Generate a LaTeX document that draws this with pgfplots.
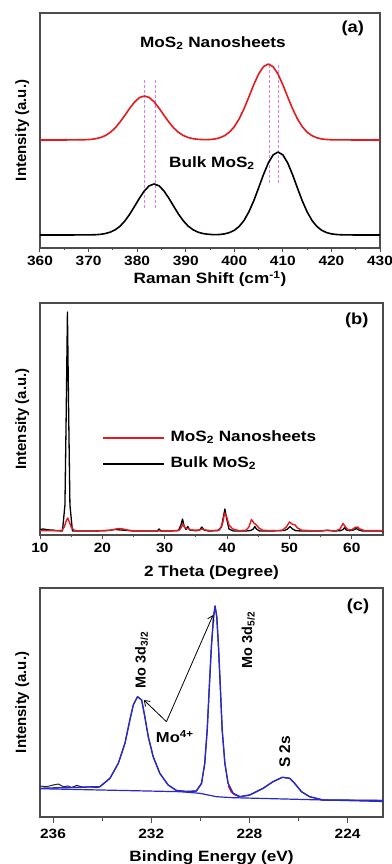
\documentclass[border=0pt]{standalone}
\usepackage{fontspec}
\setmainfont[FakeStretch=1.15]{Liberation Sans}
\newfontfamily\rotfont{Liberation Sans}
\usepackage{pgfplots}
\pgfplotsset{compat=1.18}
\usetikzlibrary{arrows.meta}
\definecolor{myred}{RGB}{230,25,30}
\definecolor{myblue}{RGB}{40,40,205}
\definecolor{myviolet}{RGB}{225,120,235}
\newcommand{\fs}[1]{\fontsize{#1}{#1}\selectfont\bfseries}
\pgfplotsset{
  base/.style={
    scale only axis, anchor=south west,
    axis line style={black!70, line width=1.1bp},
    tick style={black!70, line width=1bp},
    tick align=outside, major tick length=4.5bp, minor tick length=2.5bp,
    xtick pos=bottom, ytick=\empty, enlargelimits=false,
    /pgf/number format/assume math mode=true,
    xticklabel style={font=\fs{13.5}},
    xlabel style={at={(axis description cs:0.5,0)}, anchor=center, font=\fs{15}},
    every axis y label/.style={at={(axis description cs:-0.052,0.5)}, rotate=90, anchor=center, font=\rotfont\fs{15}},
    ylabel={Intensity (a.u.)},
  }
}
\begin{document}
\begin{tikzpicture}
\useasboundingbox (0,0) rectangle (392bp,864bp);
% ---------------- (a) Raman
\begin{axis}[base, at={(40bp,616bp)}, width=340bp, height=235bp,
  xmin=360, xmax=430, ymin=0, ymax=235,
  xtick={360,370,...,430}, minor x tick num=1,
  xlabel={Raman Shift (cm\textsuperscript{-1})}, xlabel style={yshift=-31bp}]
\addplot[myviolet, line width=0.9bp, dash pattern=on 3bp off 2bp] coordinates {(381.47,40) (381.47,169)};
\addplot[myviolet, line width=0.9bp, dash pattern=on 3bp off 2bp] coordinates {(383.68,40) (383.68,169)};
\addplot[myviolet, line width=0.9bp, dash pattern=on 3bp off 2bp] coordinates {(407.2,64.7) (407.2,184.7)};
\addplot[myviolet, line width=0.9bp, dash pattern=on 3bp off 2bp] coordinates {(409.1,64.7) (409.1,184.7)};
\addplot[black, line width=1.6bp, line join=round] table {
360 13
365 13
370 13.1
371.5 13.3
372.5 13.7
373.5 14.5
374.5 15.9
375.5 18.25
376.5 21.9
377.5 27.2
378.5 34.0
379.5 41.9
380.5 50.0
381.5 57.2
382.5 62.2
383.5 64
384.5 62.2
385.5 57.2
386.5 50.0
387.5 41.9
388.5 34.0
389.5 27.2
390.5 21.9
391.5 18.25
392.5 15.9
393.5 14.5
394.5 13.8
395.5 13.4
396 13.3
397 13.5
398 14.1
399 15.4
400 17.65
401 21.55
402 27.5
403 36.1
404 47.1
405 60.0
406 73.3
407 85.0
408 93.1
409 96
410 93.1
411 85.0
412 73.3
413 60.0
414 47.1
415 36.1
416 27.5
417 21.55
418 17.65
419 15.4
420 14.1
421 13.5
422 13.2
425 13
430 13
};
\addplot[myred, line width=1.6bp, line join=round] table {
360 108
365 108
369.5 108.3
370.5 108.6
371.5 109.3
372.5 110.5
373.5 112.5
374.5 115.7
375.5 120.2
376.5 126.1
377.5 132.9
378.5 139.9
379.5 146.1
380.5 150.5
381.5 152
382.5 150.5
383.5 146.1
384.5 139.9
385.5 132.9
386.5 126.1
387.5 120.2
388.5 115.7
389.5 112.5
390.5 110.5
391.5 109.3
392.5 108.7
393.5 108.4
394.5 108.4
395 108.5
396 109.0
397 110.2
398 112.3
399 115.8
400 121.3
401 129.1
402 139.2
403 151.0
404 163.2
405 173.9
406 181.3
407 184
408 181.3
409 173.9
410 163.2
411 151.0
412 139.2
413 129.1
414 121.3
415 115.8
416 112.3
417 110.2
418 109.0
419 108.5
420 108.2
425 108
430 108
};
\node[font=\fs{15}] at (axis cs:395.6,205) {MoS\textsubscript{2} Nanosheets};
\node[font=\fs{15}] at (axis cs:395.4,85) {Bulk MoS\textsubscript{2}};
\node[font=\fs{16}] at (axis cs:424.4,220) {(a)};
\end{axis}
% ---------------- (b) XRD
\begin{axis}[base, at={(40bp,329bp)}, width=343bp, height=232bp,
  xmin=10, xmax=65, ymin=0, ymax=232,
  xtick={10,20,...,60}, minor x tick num=1,
  xlabel={2 Theta (Degree)}, xlabel style={yshift=-38bp},
  legend cell align=left,
  legend image code/.code={\draw[#1] (0bp,0bp) -- (61bp,0bp);},
  legend style={draw=none, fill=none, at={(axis description cs:0.181,0.362)}, anchor=west,
    inner sep=0pt, row sep=11bp, font=\fs{15},
    nodes={inner sep=0pt, text height=11bp, text depth=4bp},
    /tikz/every odd column/.append style={column sep=6bp}}]
\addlegendimage{myred, line width=1.3bp}
\addlegendentry{MoS\textsubscript{2} Nanosheets}
\addlegendimage{black, line width=1.3bp}
\addlegendentry{Bulk MoS\textsubscript{2}}
\addplot[black, line width=1.3bp, line join=round, forget plot] table {
10 5.5
10.5 6
11 5.5
11.5 5
12 5
12.5 4.5
13 4.2
13.6 4
14.0 30
14.2 120
14.4 223
14.6 120
14.8 30
15.2 4
16 4
18 4
20 4.2
21 4.5
22 5.5
23 5
24 4.5
25 4
27 4
28.8 4
29.1 6
29.4 4
31 4
32.2 4.5
32.6 10
32.85 16
33.1 9
33.4 5.5
33.7 8.5
34 5
35 4.2
35.6 5
35.95 8
36.3 5
37 4
38.5 4.3
39.1 8
39.4 18
39.65 26
39.9 17
40.3 6
41 4
43 4
43.8 4.5
44.2 6
44.45 8.5
44.7 6
45.2 4
47 4
49.2 4.5
49.7 6
50.1 8.5
50.5 6
51 4.3
52 4
55 4
56.2 4.8
57 4
58.2 4.3
58.6 5.5
58.85 7.5
59.1 5
59.6 4.3
60.3 5
60.7 6.5
61.1 5
61.7 4
63 4
65 4
};
\addplot[myred, line width=1.4bp, line join=round, forget plot] table {
10 4.5
11 4.3
12 4.2
13 4.3
13.5 4.5
13.9 8
14.2 14
14.45 17
14.7 13
15.0 8
15.5 4.5
16.5 4
19 4
20.5 4.5
21.5 5
22.2 6
22.7 6.5
23.3 6
24 5
25 4.2
27 4
30 4
32.3 4.5
32.7 8
32.9 11
33.2 7.5
33.5 6.5
33.8 6.5
34.2 5
35.5 4.8
36 6
36.5 5
37.5 4.3
38.8 5
39.3 12
39.6 22
39.9 19
40.3 10
40.9 6
41.8 4.5
43 4.6
43.5 8
43.9 15.5
44.3 12
44.7 10
45.1 7
45.7 4.8
47 4.3
48.8 4.6
49.5 8
50.0 13
50.4 11
50.9 10
51.3 7
52 4.8
53.5 4.3
55 4.2
56 4.6
56.5 4.2
57.5 4.3
58.1 6
58.6 11.5
59.0 8
59.4 5
60 5.2
60.5 7.5
60.9 8
61.3 6
62 4.5
63 4.3
65 4.3
};
\node[font=\fs{16}] at (axis cs:60.8,215) {(b)};
\end{axis}
% ---------------- (c) XPS
\begin{axis}[base, at={(40bp,47bp)}, width=343bp, height=229bp,
  x dir=reverse, xmin=222.56, xmax=236.53, ymin=0, ymax=229,
  xtick={224,228,232,236}, minor x tick num=1,
  major tick length=6bp, minor tick length=3.5bp,
  xticklabel shift=3bp,
  xlabel={Binding Energy (eV)}, xlabel style={yshift=-41bp}]
\addplot[black!85, line width=1bp, line join=round] table {
236.53 31.0
236.26 30.3
235.99 32.0
235.78 33.0
235.58 30.3
235.38 31.0
235.24 29.3
235.04 31.7
234.77 29.7
234.50 30.3
234.22 29.3
234.09 30.3
233.68 38.7
233.34 53.7
233.07 73.7
232.87 97.0
232.73 112.0
232.56 120.3
232.39 117.0
232.26 100.3
232.12 80.3
231.92 60.3
231.65 43.7
231.31 32.0
230.97 26.5
230.56 25.5
230.16 26.0
229.95 33.7
229.82 53.7
229.72 87.0
229.64 127.0
229.55 170.3
229.46 200.3
229.40 211.0
229.33 200.3
229.26 170.3
229.18 127.0
229.11 87.0
229.00 53.7
228.87 33.7
228.67 23.7
228.39 20.3
227.99 22.0
227.44 28.7
227.04 35.3
226.66 39.7
226.36 38.7
226.16 33.7
225.88 25.3
225.55 20.3
225.00 17.0
223.92 16.8
222.56 16.5
};
\addplot[myred, line width=1.3bp, line join=round] table {
228.86 31
228.74 25
228.58 22
228.45 21
};
\addplot[myblue, line width=1.2bp, line join=round] table {
236.53 28.3
230.83 25.3
230.02 23.7
229.34 20.3
228.67 19.3
222.56 15.5
};
\addplot[myblue, line width=1.4bp, line join=round] table {
236.53 28.7
234.09 30.3
233.68 38.7
233.34 53.7
233.07 73.7
232.87 97.0
232.73 112.0
232.56 120.3
232.39 117.0
232.26 100.3
232.12 80.3
231.92 60.3
231.65 43.7
231.31 32.0
230.97 26.5
230.56 25.5
230.16 26.0
229.95 33.7
229.82 53.7
229.72 87.0
229.64 127.0
229.55 170.3
229.46 200.3
229.40 211.0
229.33 200.3
229.26 170.3
229.18 127.0
229.11 87.0
229.00 53.7
228.87 33.7
228.67 23.7
228.39 20.3
227.99 22.0
227.44 28.7
227.04 35.3
226.66 39.7
226.36 38.7
226.16 33.7
225.88 25.3
225.55 20.3
225.00 17.0
223.92 16.8
222.56 16.5
};
\draw[black, line width=0.8bp, -{Straight Barb[length=5bp,width=7bp]}] (axis cs:231.38,95.3) -- (axis cs:232.30,117);
\draw[black, line width=0.8bp, -{Straight Barb[length=5bp,width=7bp]}] (axis cs:231.38,95.3) -- (axis cs:229.48,202);
\node[font=\rotfont\fs{14.5}, rotate=90] at (axis cs:232.39,157) {Mo 3d\textsubscript{3/2}};
\node[font=\rotfont\fs{14.5}, rotate=90] at (axis cs:228.05,177) {Mo 3d\textsubscript{5/2}};
\node[font=\rotfont\fs{15.5}, rotate=90] at (axis cs:226.56,65.3) {S 2s};
\node[font=\fs{14.5}] at (axis cs:231.04,80.3) {Mo\textsuperscript{4+}};
\node[font=\fs{16}] at (axis cs:223.58,210.3) {(c)};
\end{axis}
\end{tikzpicture}
\end{document}
